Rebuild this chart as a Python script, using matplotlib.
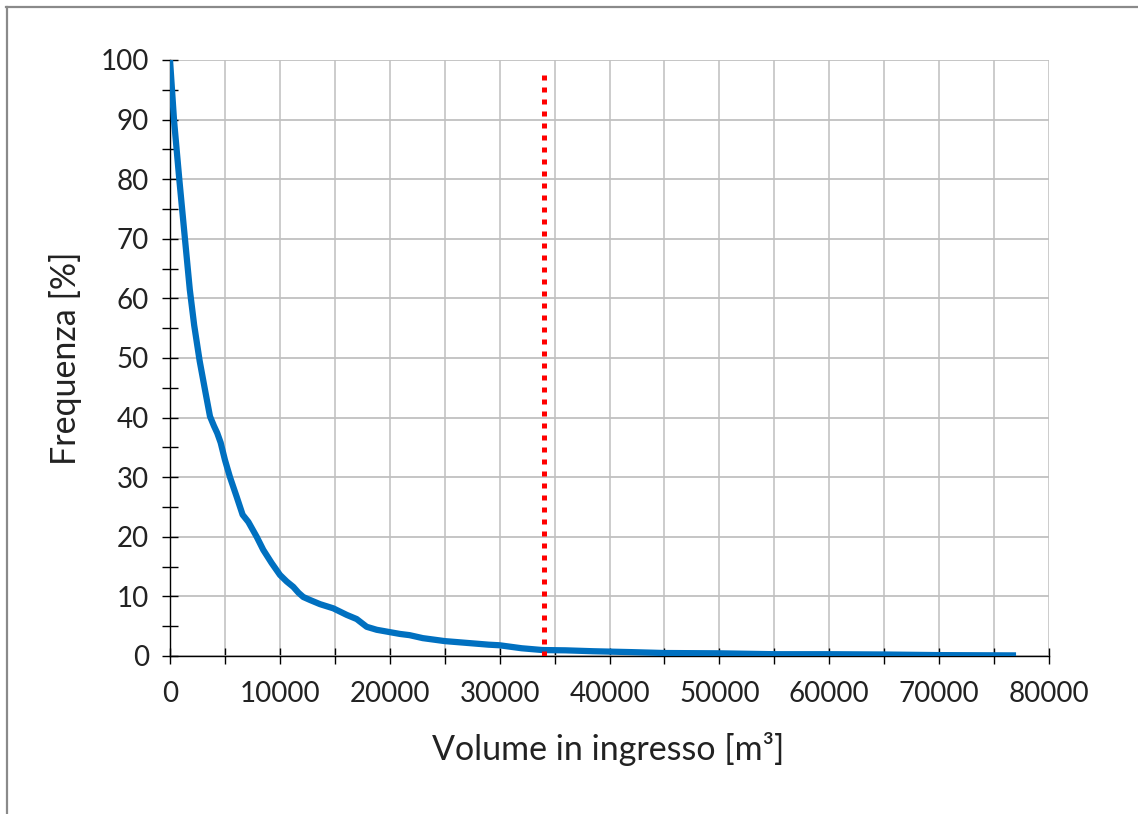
import matplotlib
matplotlib.use("Agg")
import matplotlib.pyplot as plt
from matplotlib.ticker import MultipleLocator
from matplotlib.lines import Line2D

# Exceedance curve of inflow volumes
volume_m3 = [0, 370, 850, 1370, 1800, 2200, 2700, 3200, 3640, 4000, 4300, 4610, 5000, 5460,
             6070, 6610, 7130, 7890, 8490, 9250, 10010, 10620, 11220, 11700, 12130,
             12740, 13650, 14860, 16080, 16990, 17900, 18810, 20020, 20930,
             21800, 23000, 25000, 27000, 29000, 30000, 32000, 33900, 36000,
             38500, 42000, 45000, 50000, 55000, 60000, 65000, 70000, 77000]
frequency_pct = [100, 89.8, 79.9, 69.8, 61.5, 55.5, 49.5, 44.5, 40.2, 38.6, 37.4, 35.8, 32.9, 30.0,
                 26.7, 23.7, 22.5, 20.0, 17.8, 15.6, 13.6, 12.5, 11.6, 10.6, 9.9,
                 9.4, 8.7, 8.0, 6.9, 6.2, 4.9, 4.4, 4.0, 3.7,
                 3.5, 3.0, 2.5, 2.2, 1.9, 1.8, 1.3, 1.0, 0.95,
                 0.8, 0.65, 0.5, 0.45, 0.3, 0.3, 0.25, 0.15, 0.1]

# Threshold volume marker
threshold_x = 34000
threshold_top = 98

x_ticks = [0, 10000, 20000, 30000, 40000, 50000, 60000, 70000, 80000]
y_ticks = [0, 10, 20, 30, 40, 50, 60, 70, 80, 90, 100]

plt.rcParams['font.family'] = ['Lato', 'DejaVu Sans']

fig = plt.figure(figsize=(11.38, 8.14), dpi=100)
ax = fig.add_axes([170 / 1138, 1 - 656 / 814, (1049 - 170) / 1138, (656 - 60) / 814])

ax.set_xlim(0, 80000)
ax.set_ylim(0, 100)

ax.yaxis.set_minor_locator(MultipleLocator(5))
ax.set_xticks(x_ticks)
ax.set_xticks([5000 * i for i in range(17)], minor=True)
ax.set_yticks(y_ticks)
ax.set_xticklabels([str(v) for v in x_ticks])
ax.set_yticklabels([str(v) for v in y_ticks])

ax.grid(True, which='major', axis='y', color='#c0c0c0', linewidth=1.3)
ax.grid(True, which='both', axis='x', color='#c8c8c8', linewidth=1.3)
ax.set_axisbelow(True)

ax.tick_params(axis='both', which='both', direction='inout', length=12,
               width=1.0, color='black', labelsize=20, labelcolor='#222222')
ax.tick_params(axis='x', which='major', pad=12)
ax.tick_params(axis='y', which='major', pad=9)

for side in ('top', 'right'):
    ax.spines[side].set_visible(False)
for side in ('left', 'bottom'):
    ax.spines[side].set_color('black')
    ax.spines[side].set_linewidth(1.0)

ax.plot(volume_m3, frequency_pct, color='#0070C0', linewidth=4.5,
        solid_joinstyle='round', solid_capstyle='butt', zorder=3)
ax.plot([threshold_x, threshold_x], [0, threshold_top], color='#ff0000',
        linewidth=3.6, linestyle=(0, (1, 1.4)), dash_capstyle='butt', zorder=4)

ax.set_xlabel('Volume in ingresso [m³]', fontsize=24.5, color='#222222')
ax.set_ylabel('Frequenza [%]', fontsize=24.5, color='#222222')
ax.xaxis.label.set_va('center')
ax.yaxis.label.set_va('center')
ax.xaxis.set_label_coords(0.498, (656 - 749) / 596)
ax.yaxis.set_label_coords((66 - 170) / 879, 0.50)

# Outer frame on the top and left edges
fig.add_artist(Line2D([6 / 1138, 1], [1 - 7 / 814, 1 - 7 / 814], color='#8a8a8a',
                      linewidth=1.6, transform=fig.transFigure))
fig.add_artist(Line2D([7 / 1138, 7 / 1138], [0, 1 - 7 / 814], color='#8a8a8a',
                      linewidth=1.6, transform=fig.transFigure))

fig.savefig('out.png', dpi=100)
